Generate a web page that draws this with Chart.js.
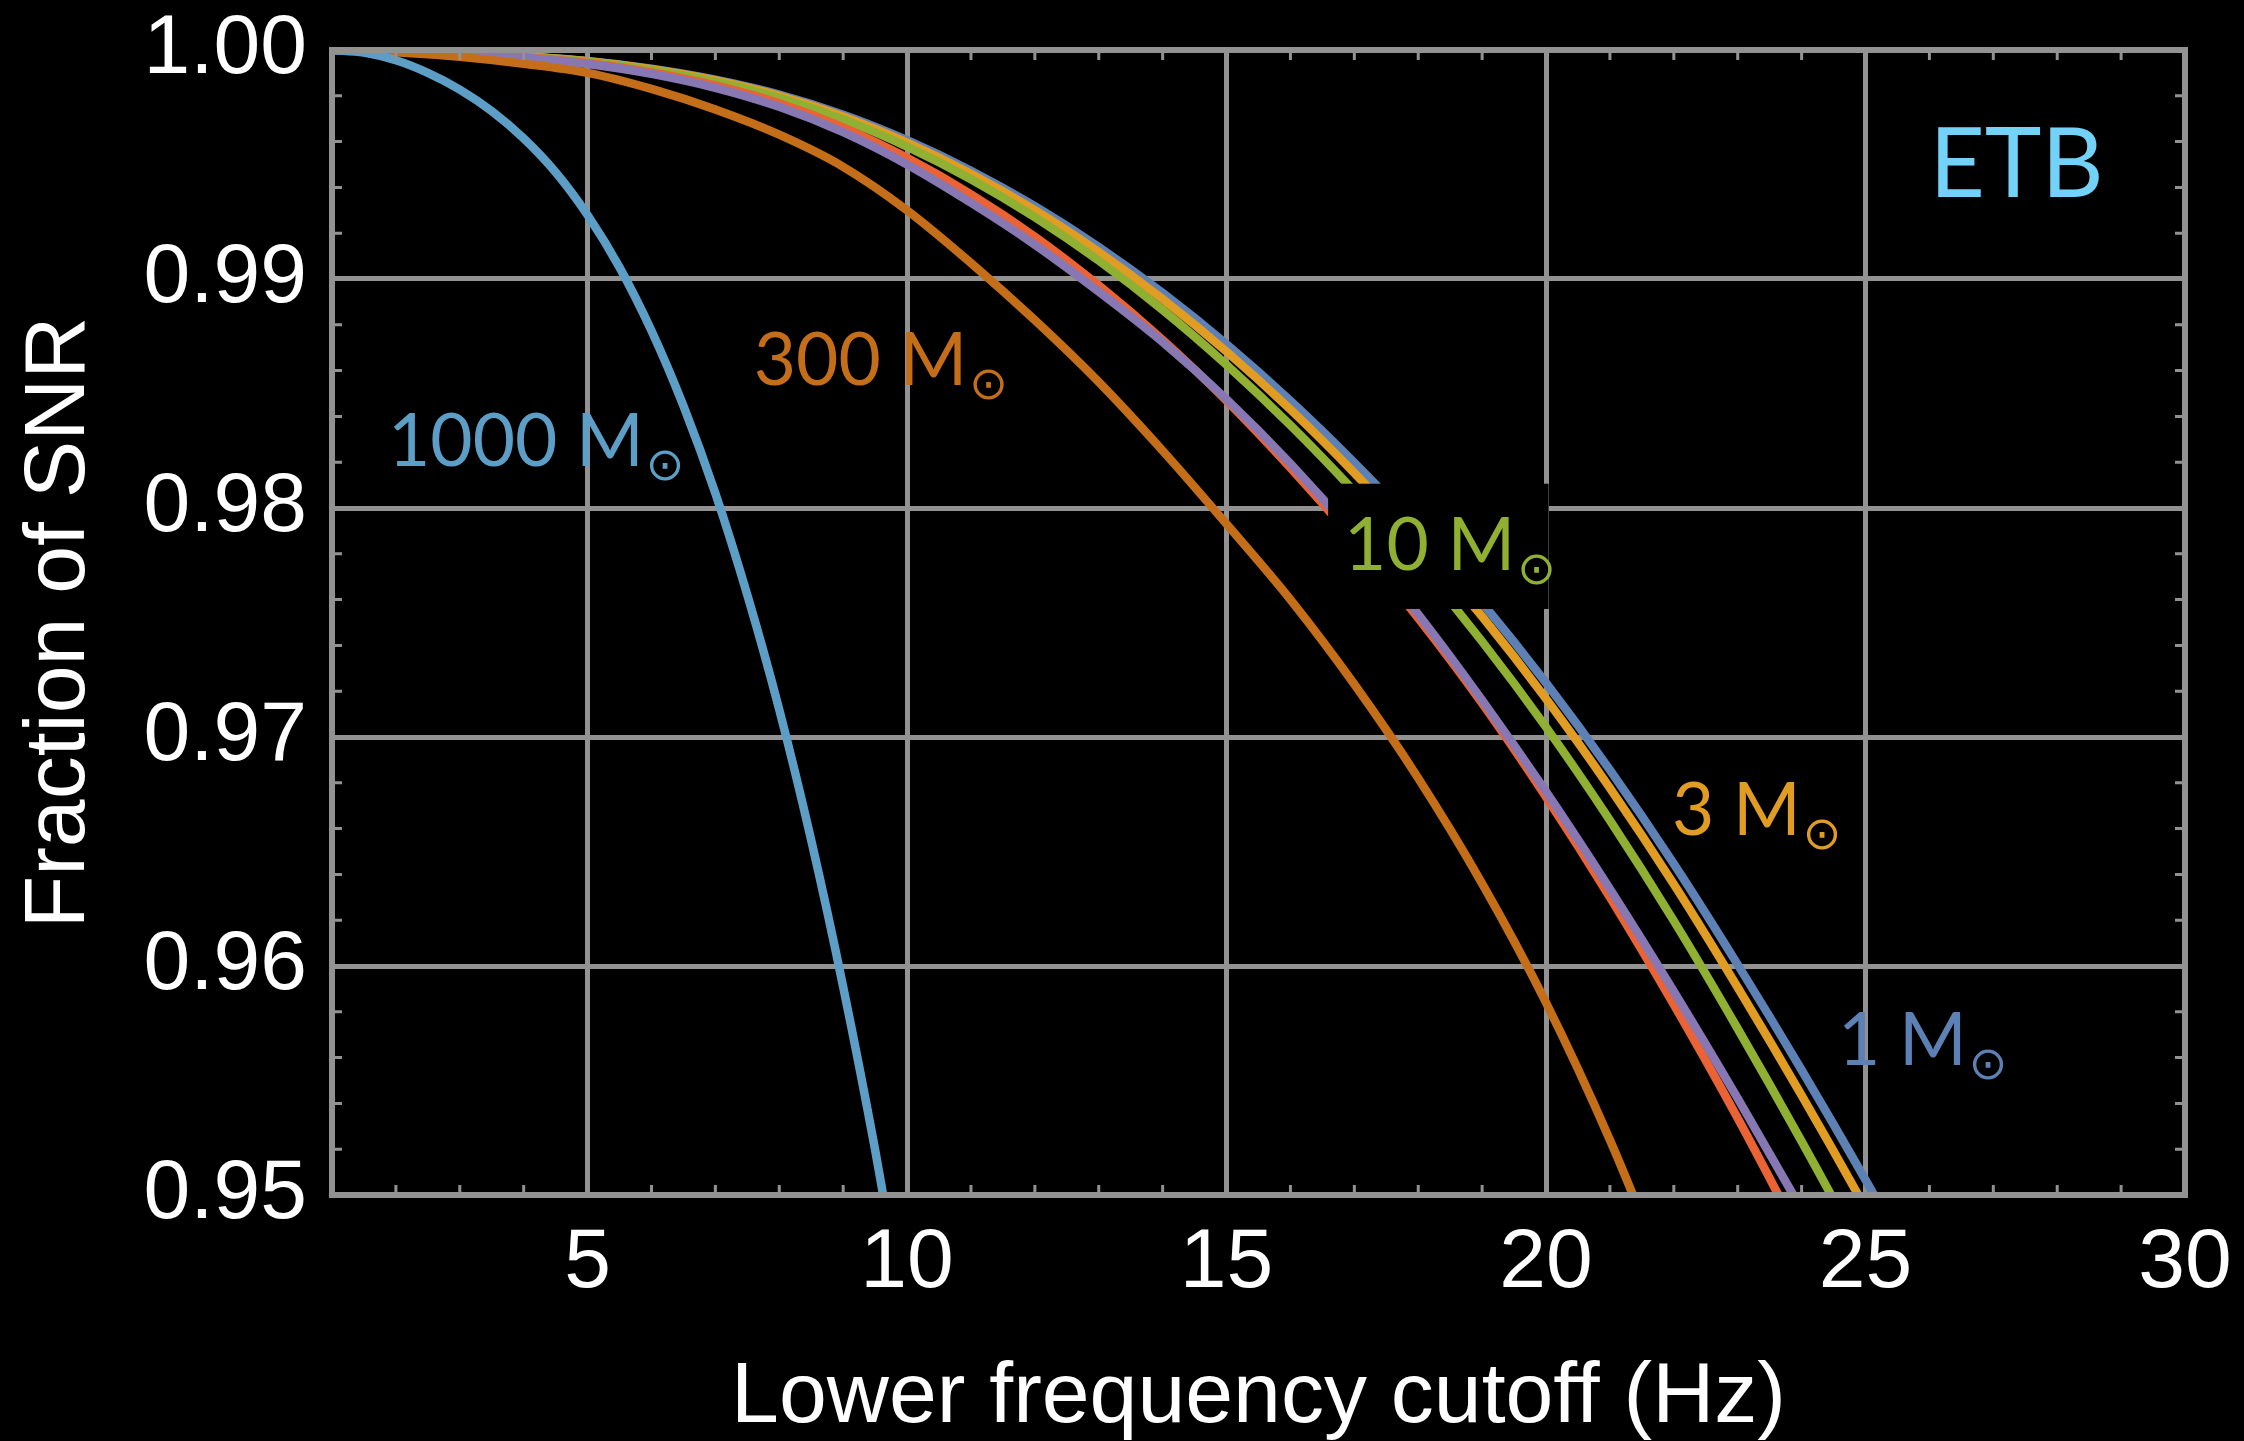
<!DOCTYPE html>
<html>
<head>
<meta charset="utf-8">
<script src="https://cdn.jsdelivr.net/npm/chart.js@4.4.1/dist/chart.umd.min.js"></script>
<style>
html,body{margin:0;padding:0;background:#000;}
#wrap{width:2244px;height:1441px;position:relative;}
</style>
</head>
<body>
<div id="wrap"><canvas id="c" width="2244" height="1441"></canvas></div>
<script>
// ---- Tick labels ----
const xTicks = [5, 10, 15, 20, 25, 30];
const yTicks = [0.95, 0.96, 0.97, 0.98, 0.99, 1.00];

// ---- Series (mass in solar masses) ----
const massLabels = ['1', '3', '10', '30', '100', '300', '1000'];

const freq1 = [1,2,3,4,5,6,7,8,9,10,11,12,13,14,15,16,17,18,19,20,21,22,23,24,25,26];
const snr1  = [1.0, 0.99995, 0.99987, 0.99973, 0.99952, 0.99918, 0.9987, 0.99805, 0.99717, 0.99606, 0.99473, 0.99318, 0.9914, 0.98939, 0.98715, 0.98468, 0.98198, 0.97906, 0.97586, 0.97236, 0.96856, 0.96446, 0.96006, 0.95546, 0.95066, 0.94566];

const freq3 = [1,2,3,4,5,6,7,8,9,10,11,12,13,14,15,16,17,18,19,20,21,22,23,24,25,26];
const snr3  = [1.0, 0.99995, 0.99987, 0.99972, 0.99951, 0.99916, 0.99867, 0.998, 0.9971, 0.99596, 0.9946, 0.99301, 0.99118, 0.98912, 0.98683, 0.9843, 0.98153, 0.97854, 0.97526, 0.97167, 0.96777, 0.96357, 0.95906, 0.95435, 0.94943, 0.9443];

const freq10 = [1,2,3,4,5,6,7,8,9,10,11,12,13,14,15,16,17,18,19,20,21,22,23,24,25,26];
const snr10  = [1.0, 0.99995, 0.99986, 0.99971, 0.99949, 0.99912, 0.99861, 0.99791, 0.99697, 0.99578, 0.99436, 0.9927, 0.9908, 0.98865, 0.98625, 0.98361, 0.98072, 0.9776, 0.97417, 0.97043, 0.96636, 0.96197, 0.95726, 0.95234, 0.94721, 0.94186];

const freq30 = [1,2,3,4,5,6,7,8,9,10,11,12,13,14,15,16,17,18,19,20,21,22,23,24];
const snr30  = [1.0, 0.99994, 0.99984, 0.99968, 0.99943, 0.99902, 0.99845, 0.99767, 0.99662, 0.99529, 0.9937, 0.99185, 0.98972, 0.98734, 0.98468, 0.98175, 0.97859, 0.97519, 0.97147, 0.96738, 0.963, 0.95831, 0.95335, 0.94807];

const freq100 = [1,2,3,4,5,6,7,8,9,10,11,12,13,14,15,16,17,18,19,20,21,22,23,24];
const snr100  = [1.0, 0.99994, 0.99983, 0.99966, 0.99939, 0.99896, 0.99835, 0.99752, 0.99641, 0.995, 0.99333, 0.9915, 0.98945, 0.98725, 0.98475, 0.98194, 0.97881, 0.97536, 0.97161, 0.96761, 0.96336, 0.95889, 0.95422, 0.94937];

const freq300 = [1,2,3,4,5,6,7,8,9,10,11,12,13,14,15,16,17,18,19,20,21,22];
const snr300  = [1.0, 0.9999, 0.9997, 0.9994, 0.999, 0.9983, 0.9974, 0.9963, 0.9949, 0.993, 0.9907, 0.9882, 0.9855, 0.9825, 0.9793, 0.976, 0.9723, 0.9682, 0.9636, 0.9584, 0.9524, 0.9456];

const freq1000 = [1, 1.5, 2, 2.5, 3, 3.5, 4, 4.5, 5, 5.5, 6, 6.5, 7, 7.5, 8, 8.5, 9, 9.5, 10];
const snr1000  = [1.0, 0.99989, 0.99955, 0.999, 0.99827, 0.99733, 0.99614, 0.99466, 0.99279, 0.99051, 0.98774, 0.98446, 0.98064, 0.9762, 0.97119, 0.96549, 0.95909, 0.95197, 0.94409];

const freqs = [freq1, freq3, freq10, freq30, freq100, freq300, freq1000];
const snrs  = [snr1, snr3, snr10, snr30, snr100, snr300, snr1000];

// ---- Styles ----
const colors = ['#5E81B5', '#E19C24', '#8FB032', '#EB6235', '#8778B3', '#C56E1A', '#5D9EC7'];
const gridColor = '#929292';

const datasets = massLabels.map((m, i) => ({
  label: m + ' M\u2299',
  data: freqs[i].map((x, k) => ({x: x, y: snrs[i][k]})),
  borderColor: colors[i],
  borderWidth: 8.5,
  pointRadius: 0,
  fill: false,
  cubicInterpolationMode: 'monotone',
  order: massLabels.length - i
}));

// in-plot annotations (data coordinates)
const curveLabels = [
  {text: '1000', color: '#5D9EC7', x: 1.876, y: 0.98183},
  {text: '300',  color: '#C56E1A', x: 7.60,  y: 0.98537},
  {text: '10',   color: '#8FB032', x: 16.84, y: 0.97729},
  {text: '3',    color: '#E19C24', x: 21.97, y: 0.96572},
  {text: '1',    color: '#5E81B5', x: 24.57, y: 0.95568}
];
const labelBox = {x0: 16.59, x1: 20.04, y0: 0.98106, y1: 0.97559};
const panelTag = {text: 'ETB', color: '#73D2F8', x: 26.0, y: 0.99358};

const decor = {
  id: 'decor',
  beforeDraw(chart) {
    const ctx = chart.ctx;
    ctx.save();
    ctx.fillStyle = '#000';
    ctx.fillRect(0, 0, chart.width, chart.height);
    ctx.restore();
  },
  afterDatasetsDraw(chart) {
    const ctx = chart.ctx;
    const xs = chart.scales.x, ys = chart.scales.y;
    ctx.save();
    // black box behind the 10 Msun label
    const bx0 = xs.getPixelForValue(labelBox.x0), bx1 = xs.getPixelForValue(labelBox.x1);
    const by0 = ys.getPixelForValue(labelBox.y0), by1 = ys.getPixelForValue(labelBox.y1);
    ctx.fillStyle = '#000';
    ctx.fillRect(bx0, by0, bx1 - bx0, by1 - by0);
    // curve labels
    ctx.textAlign = 'left';
    curveLabels.forEach(l => {
      const px = xs.getPixelForValue(l.x), py = ys.getPixelForValue(l.y);
      ctx.fillStyle = l.color;
      ctx.font = '73px Lato';
      ctx.textBaseline = 'alphabetic';
      const t = l.text + ' M';
      ctx.fillText(t, px, py);
      const w = ctx.measureText(t).width;
      ctx.font = '46px "DejaVu Sans"';
      ctx.textBaseline = 'middle';
      ctx.fillText('\u2299', px + w + 2, py + 2);
    });
    // panel tag
    ctx.fillStyle = panelTag.color;
    ctx.font = '96px Lato';
    ctx.textBaseline = 'alphabetic';
    ctx.fillText(panelTag.text, xs.getPixelForValue(panelTag.x), ys.getPixelForValue(panelTag.y));
    ctx.restore();
  },
  afterDraw(chart) {
    const ctx = chart.ctx;
    const a = chart.chartArea;
    const xs = chart.scales.x, ys = chart.scales.y;
    ctx.save();
    ctx.strokeStyle = gridColor;
    // minor ticks
    ctx.lineWidth = 3;
    ctx.beginPath();
    for (let v = 2; v < 30; v++) {
      if (v % 5 === 0) continue;
      const p = xs.getPixelForValue(v);
      ctx.moveTo(p, a.bottom); ctx.lineTo(p, a.bottom - 10);
      ctx.moveTo(p, a.top); ctx.lineTo(p, a.top + 10);
    }
    for (let k = 1; k < 25; k++) {
      if (k % 5 === 0) continue;
      const p = ys.getPixelForValue(0.95 + k * 0.002);
      ctx.moveTo(a.left, p); ctx.lineTo(a.left + 10, p);
      ctx.moveTo(a.right, p); ctx.lineTo(a.right - 10, p);
    }
    ctx.stroke();
    // frame
    ctx.lineWidth = 6;
    ctx.strokeRect(a.left, a.top, a.right - a.left, a.bottom - a.top);
    ctx.restore();
  }
};

new Chart(document.getElementById('c'), {
  type: 'line',
  data: {datasets: datasets},
  options: {
    responsive: false,
    animation: false,
    devicePixelRatio: 1,
    layout: {padding: {top: 50, right: 59, left: 0, bottom: 0}},
    plugins: {legend: {display: false}, tooltip: {enabled: false}},
    scales: {
      x: {
        type: 'linear', min: 1, max: 30, z: 1,
        afterBuildTicks: s => { s.ticks = xTicks.map(v => ({value: v})); },
        afterFit: s => { s.height = 246; s.paddingLeft = 0; s.paddingRight = 0; },
        ticks: {color: '#fff', font: {family: 'Liberation Sans', size: 84, lineHeight: 1}, padding: 27, maxRotation: 0, autoSkip: false},
        grid: {color: gridColor, lineWidth: 5, drawTicks: false},
        border: {display: false},
        title: {display: true, text: 'Lower frequency cutoff (Hz)', color: '#fff',
                font: {family: 'Liberation Sans', size: 86, lineHeight: 1}, padding: {top: 0, bottom: 0}}
      },
      y: {
        type: 'linear', min: 0.95, max: 1.0, z: 1,
        afterBuildTicks: s => { s.ticks = yTicks.map(v => ({value: v})); },
        afterFit: s => { s.width = 332; s.paddingTop = 0; s.paddingBottom = 0; },
        ticks: {color: '#fff', font: {family: 'Liberation Sans', size: 84, lineHeight: 1}, padding: 25,
                callback: v => Number(v).toFixed(2)},
        grid: {color: gridColor, lineWidth: 5, drawTicks: false},
        border: {display: false},
        title: {display: true, text: 'Fraction of SNR', color: '#fff',
                font: {family: 'Liberation Sans', size: 86, lineHeight: 1}, padding: {top: 17, bottom: 0}}
      }
    }
  },
  plugins: [decor]
});
</script>
</body>
</html>
